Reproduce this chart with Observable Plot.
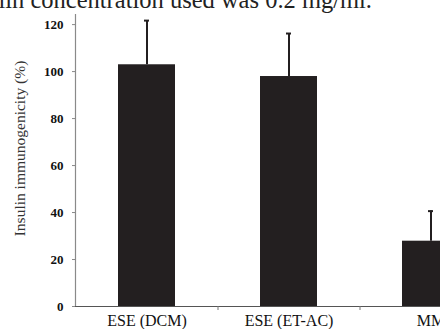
<!DOCTYPE html>
<html>
<head>
<meta charset="utf-8">
<script src="https://cdn.jsdelivr.net/npm/d3@7"></script>
<script src="https://cdn.jsdelivr.net/npm/@observablehq/plot@0.6"></script>
<style>
  html, body { margin: 0; padding: 0; background: #fff; }
  #wrap { position: relative; width: 440px; height: 329px; overflow: hidden; }
  #caption { position: absolute; right: 68px; top: -12.5px; white-space: nowrap;
    font-family: "Liberation Serif", serif; font-size: 24.5px; line-height: 1; color: #222; }
  #chart { position: absolute; left: 0; top: 0; }
</style>
</head>
<body>
<div id="wrap">
  <div id="chart"></div>
  <div id="caption"></div>
</div>
<script>
const captionText = "Insulin concentration used was 0.2 mg/ml.";
const categories = ["ESE (DCM)", "ESE (ET-AC)", "MM"];
const values = [102.9, 97.9, 27.8];
const errors = [18.8, 18.3, 12.8];
const yTicks = [0, 20, 40, 60, 80, 100, 120];
const yLabel = "Insulin immunogenicity (%)";

document.getElementById("caption").textContent = captionText;

const data = categories.map((c, i) => ({cat: c, value: values[i], err: errors[i]}));
const xRange = [75, 501];
const step = (xRange[1] - xRange[0]) / categories.length;

const chart = Plot.plot({
  width: 440,
  height: 329,
  marginLeft: 75,
  marginRight: 0,
  marginTop: 14,
  marginBottom: 23,
  style: {fontFamily: "Liberation Serif, serif", background: "transparent", overflow: "hidden"},
  x: {type: "band", domain: categories, range: xRange, paddingInner: 0.6, paddingOuter: 0.3},
  y: {type: "linear", domain: [0, 124.3], range: [306, 14]},
  marks: [
    Plot.frame({anchor: "left", stroke: "#8a8a8a", strokeWidth: 1.2}),
    Plot.barY(data, {x: "cat", y: "value", fill: "#231f20"}),
    Plot.ruleX(data, {x: "cat", y1: "value", y2: d => d.value + d.err, stroke: "#231f20", strokeWidth: 2}),
    Plot.tickY(data, {x: "cat", y: d => d.value + d.err, stroke: "#231f20", strokeWidth: 2, insetLeft: 26, insetRight: 26}),
    Plot.ruleY([0], {stroke: "#555", strokeWidth: 1.2}),
    Plot.ruleX(categories.slice(1), {x: d => d, dx: -step / 2, y1: () => 0, y2: () => 0, insetTop: 4, stroke: "#777", strokeWidth: 1}),
    Plot.axisX({tickSize: 0, tickPadding: 8.6, fontSize: 16, fill: "#111", label: null}),
    Plot.axisY({ticks: yTicks, tickSize: 3, tickPadding: 9, fontSize: 13, fontWeight: "bold", stroke: "#888", fill: "#111", label: null, tickFormat: d => String(d)}),
    Plot.text([yLabel], {frameAnchor: "left", textAnchor: "middle", rotate: -90, dx: -55, dy: -12, fontSize: 15.5, fill: "#333", text: d => d})
  ]
});
document.getElementById("chart").appendChild(chart);
</script>
</body>
</html>
